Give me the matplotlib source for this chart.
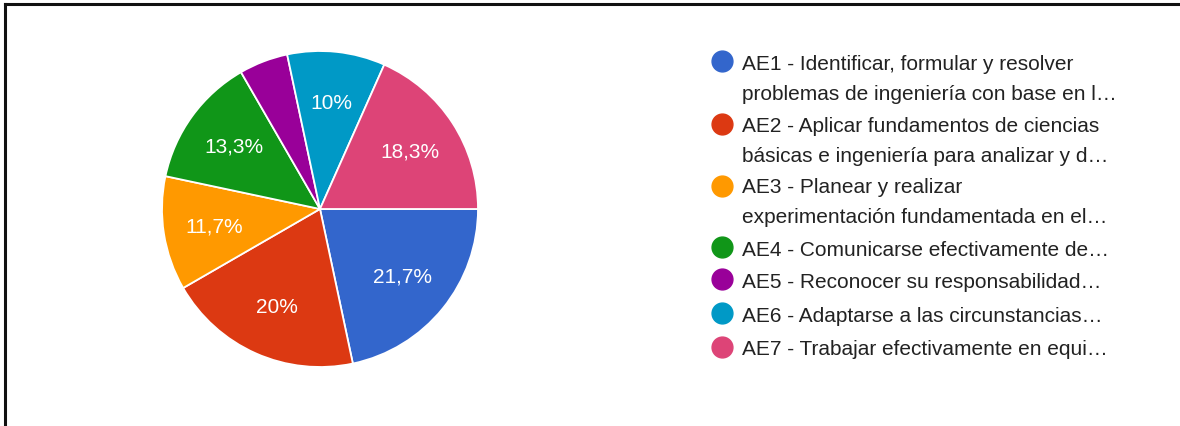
import matplotlib.pyplot as plt
from matplotlib.lines import Line2D

plt.rcParams['font.family'] = ['Liberation Sans', 'DejaVu Sans']

labels = [
    ["AE1 - Identificar, formular y resolver", "problemas de ingeniería con base en l…"],
    ["AE2 - Aplicar fundamentos de ciencias", "básicas e ingeniería para analizar y d…"],
    ["AE3 - Planear y realizar", "experimentación fundamentada en el…"],
    ["AE4 - Comunicarse efectivamente de…"],
    ["AE5 - Reconocer su responsabilidad…"],
    ["AE6 - Adaptarse a las circunstancias…"],
    ["AE7 - Trabajar efectivamente en equi…"],
]
counts = [13, 12, 7, 8, 3, 6, 11]
colors = ['#3366cc', '#dc3912', '#ff9900', '#109618', '#990099', '#0099c6', '#dd4477']


def fmt(p):
    if p < 7:
        return ''
    s = f"{p:.1f}".replace('.', ',')
    if s.endswith(',0'):
        s = s[:-2]
    return s + '%'


fig = plt.figure(figsize=(11.8, 4.27), dpi=100)
W, H = 1180, 427

# border on top and left
fig.add_artist(Line2D([4.5 / W, 4.5 / W], [0, 1 - 4.5 / H], color='#111111', lw=2.2))
fig.add_artist(Line2D([4.5 / W, 1], [1 - 4.5 / H, 1 - 4.5 / H], color='#111111', lw=2.2))

cx, cy, r = 320, 210, 158
ax = fig.add_axes([(cx - r) / W, (H - cy - r) / H, 2 * r / W, 2 * r / H])
wedges, texts, autotexts = ax.pie(
    counts, colors=colors, startangle=0, counterclock=False,
    autopct=fmt, pctdistance=0.675,
    wedgeprops=dict(edgecolor='white', linewidth=1.3),
    textprops=dict(color='white', fontsize=15),
)
ax.set_aspect('auto')
ax.set_xlim(-1, 1)
ax.set_ylim(-1, 1)

# legend
lx, tx = 722, 742
marker_y = [62, 125, 187, 248, 280, 314, 348]
base_y = [70, 132, 193, 256, 288, 322, 355]
lg = fig.add_axes([0, 0, 1, 1])
lg.set_xlim(0, W)
lg.set_ylim(H, 0)
lg.axis('off')
for my, by, lines, c in zip(marker_y, base_y, labels, colors):
    lg.plot([lx], [my], 'o', ms=15, color=c)
    for i, line in enumerate(lines):
        lg.text(tx, by + 30 * i, line, fontsize=15, color='#222222',
                va='baseline', ha='left')

fig.savefig('out.png', dpi=100, facecolor='white')
